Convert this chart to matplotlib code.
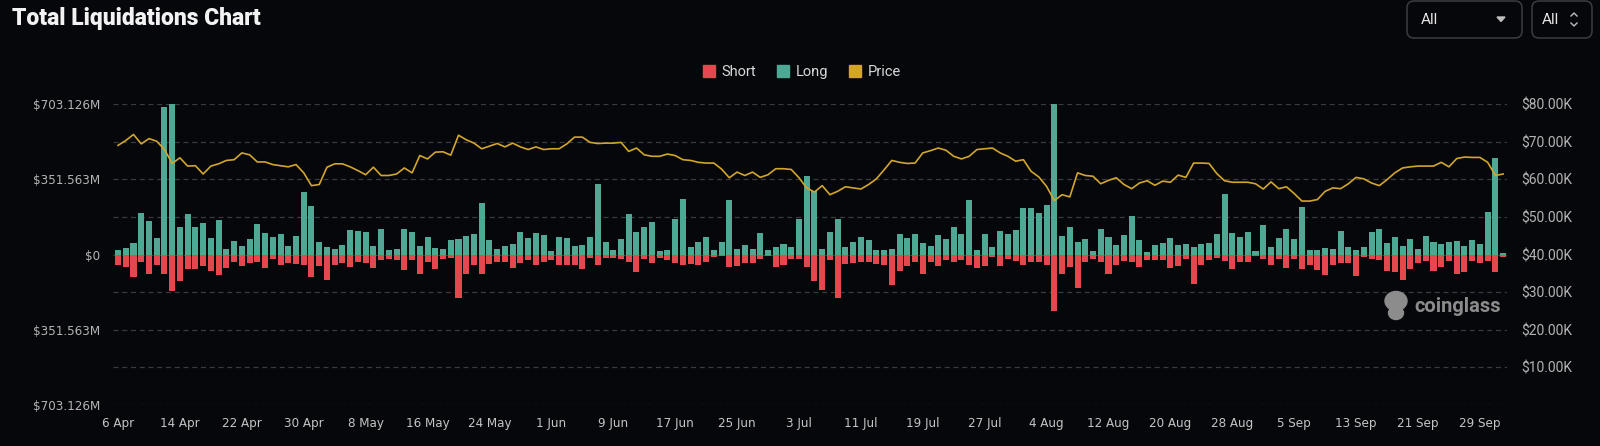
import numpy as np
import matplotlib
matplotlib.use("Agg")
import matplotlib.pyplot as plt
from matplotlib import font_manager
from matplotlib.patches import Patch, FancyBboxPatch, Ellipse

# daily liquidations, $M (6 Apr .. 2 Oct)
longs = [23, 31, 54, 194, 156, 78, 689, 703.126, 128, 187,
         129, 148, 78, 159, 28, 62, 39, 73, 143, 101,
         82, 96, 42, 86, 293, 226, 58, 36, 28, 44,
         114, 110, 104, 42, 121, 23, 25, 121, 104, 42,
         82, 31, 28, 70, 73, 86, 96, 241, 70, 26,
         42, 50, 106, 75, 101, 89, 17, 82, 78, 40,
         45, 82, 330, 58, 20, 73, 190, 104, 129, 152,
         16, 19, 168, 257, 36, 58, 82, 20, 59, 254,
         28, 45, 26, 101, 22, 34, 47, 36, 166, 369,
         299, 25, 104, 166, 34, 58, 84, 67, 20, 22,
         26, 96, 78, 96, 54, 40, 92, 73, 129, 96,
         255, 20, 98, 36, 109, 98, 114, 215, 215, 194,
         233, 703.126, 86, 128, 58, 73, 17, 117, 84, 44,
         90, 179, 70, 12, 45, 53, 75, 45, 51, 37,
         51, 56, 98, 283, 101, 81, 103, 17, 138, 33,
         78, 120, 72, 223, 20, 23, 31, 26, 109, 33,
         23, 33, 104, 117, 53, 81, 42, 72, 26, 86,
         58, 50, 59, 61, 40, 68, 50, 199, 451, 8]
shorts = [47, 59, 106, 34, 89, 47, 90, 170, 123, 67,
          70, 54, 75, 98, 61, 34, 56, 39, 36, 61,
          23, 50, 39, 44, 51, 104, 54, 117, 48, 39,
          58, 34, 39, 65, 28, 23, 25, 72, 26, 90,
          37, 70, 23, 17, 205, 89, 51, 89, 45, 34,
          34, 64, 42, 26, 47, 33, 26, 47, 47, 47,
          70, 16, 50, 16, 16, 19, 34, 81, 19, 39,
          16, 28, 42, 50, 44, 50, 34, 11, 5, 58,
          54, 39, 39, 20, 8, 58, 47, 20, 19, 58,
          126, 168, 26, 201, 44, 40, 33, 36, 44, 50,
          142, 78, 56, 36, 89, 36, 53, 26, 36, 26,
          47, 62, 54, 12, 54, 19, 30, 51, 36, 36,
          48, 265, 90, 58, 157, 36, 20, 33, 90, 47,
          31, 36, 58, 28, 28, 28, 61, 56, 23, 138,
          50, 26, 16, 30, 67, 37, 37, 8, 23, 47,
          20, 62, 20, 67, 51, 73, 95, 50, 39, 42,
          100, 12, 20, 28, 78, 82, 118, 70, 39, 30,
          78, 59, 31, 92, 81, 31, 42, 30, 81, 11]
# BTC price, $K
price = [69.0, 70.3, 71.9, 69.4, 70.8, 70.1, 67.9, 64.2, 65.7, 63.5,
         63.6, 61.4, 63.5, 64.1, 65.0, 65.2, 67.0, 66.5, 64.6, 64.6,
         63.9, 63.6, 63.3, 63.9, 61.7, 58.3, 58.6, 63.2, 64.1, 64.1,
         63.3, 62.3, 61.2, 63.2, 61.0, 61.0, 61.4, 63.0, 61.7, 66.3,
         65.4, 67.2, 67.3, 66.4, 71.7, 70.5, 69.6, 68.1, 68.8, 69.5,
         68.6, 69.6, 68.6, 67.9, 68.6, 67.9, 68.1, 68.1, 69.4, 71.2,
         71.2, 69.8, 69.5, 69.6, 69.6, 69.8, 67.4, 68.3, 66.5, 66.1,
         66.1, 66.7, 66.3, 65.2, 65.0, 64.5, 64.3, 64.3, 62.7, 60.4,
         61.9, 61.0, 61.9, 60.5, 61.2, 62.8, 62.8, 62.6, 60.4, 57.7,
         56.6, 58.3, 55.9, 56.8, 58.0, 57.7, 57.4, 58.6, 60.1, 62.5,
         65.0, 64.5, 64.2, 64.3, 67.0, 67.6, 68.3, 67.7, 66.1, 65.4,
         66.1, 67.9, 68.1, 68.3, 67.0, 66.1, 64.8, 65.2, 62.1, 60.6,
         58.1, 54.3, 55.9, 55.3, 61.7, 61.0, 60.8, 58.8, 59.7, 60.4,
         58.6, 57.5, 59.0, 59.6, 58.4, 59.5, 59.2, 61.1, 60.5, 64.3,
         64.3, 64.2, 61.5, 59.6, 59.2, 59.2, 59.2, 58.8, 57.4, 59.3,
         57.5, 58.0, 56.2, 54.2, 54.2, 54.6, 56.8, 57.7, 57.5, 58.8,
         60.5, 60.1, 59.0, 58.3, 59.9, 61.7, 63.0, 63.3, 63.5, 63.5,
         63.5, 64.5, 63.3, 65.5, 65.9, 65.8, 65.8, 64.5, 61.0, 61.4]

xtick_labels = ["6 Apr", "14 Apr", "22 Apr", "30 Apr", "8 May", "16 May", "24 May",
                "1 Jun", "9 Jun", "17 Jun", "25 Jun", "3 Jul", "11 Jul", "19 Jul",
                "27 Jul", "4 Aug", "12 Aug", "20 Aug", "28 Aug", "5 Sep", "13 Sep",
                "21 Sep", "29 Sep"]
left_ticks = [-703.126, -527.3445, -351.563, -175.7815, 0, 175.7815, 351.563, 527.3445, 703.126]
left_labels = ["$703.126M", "", "$351.563M", "", "$0", "", "$351.563M", "", "$703.126M"]
right_ticks = [0, 10, 20, 30, 40, 50, 60, 70, 80]
right_labels = ["", "$10.00K", "$20.00K", "$30.00K", "$40.00K", "$50.00K",
                "$60.00K", "$70.00K", "$80.00K"]

BG = "#06070b"
RED = "#e5474f"
TEAL = "#4fa893"
GOLD = "#d2a52c"

# pick a condensed face for the axis labels if one is installed
fonts = font_manager.fontManager.ttflist
names = {f.name for f in fonts}
cond_dejavu = any(f.name == "DejaVu Sans" and f.stretch in ("condensed", "semi-condensed", 600, 500) for f in fonts)
if "Liberation Sans Narrow" in names:
    narrow = dict(family="Liberation Sans Narrow", fontsize=11)
elif cond_dejavu:
    narrow = dict(family="DejaVu Sans", fontstretch="condensed", fontsize=9.5)
else:
    narrow = dict(family="Roboto", fontsize=9.8)

x = np.arange(len(longs))

fig = plt.figure(figsize=(16, 4.46), dpi=100, facecolor=BG)
ax = fig.add_axes([113 / 1600, 1 - 405 / 446, 1394 / 1600, 301 / 446])
ax.set_facecolor(BG)

ax.bar(x, longs, width=0.78, color=TEAL, zorder=2)
ax.bar(x, -np.array(shorts), width=0.78, color=RED, zorder=2)
ax.set_xlim(-0.65, 179.5)
ax.set_ylim(-703.126, 703.126)
ax.set_yticks(left_ticks)
ax.set_yticklabels(left_labels, color="#b4b4b4", **narrow)
ax.set_xticks(np.arange(0, 177, 8))
ax.set_xticklabels(xtick_labels, color="#c4c4c4", **narrow)
ax.tick_params(axis="both", length=0)
ax.tick_params(axis="y", pad=9)
ax.tick_params(axis="x", pad=9)
ax.grid(axis="y", color="#3a3b40", linestyle=(0, (4, 3)), linewidth=0.9, zorder=0)
for s in ax.spines.values():
    s.set_visible(False)

ax2 = ax.twinx()
ax2.plot(x, price, color=GOLD, linewidth=1.2, zorder=3)
ax2.set_ylim(0, 80)
ax2.set_yticks(right_ticks)
ax2.set_yticklabels(right_labels, family="Roboto", fontsize=10, color="#b4b4b4")
ax2.tick_params(axis="y", length=0, pad=10)
for s in ax2.spines.values():
    s.set_visible(False)

# legend
handles = [Patch(color=RED, label="Short"), Patch(color=TEAL, label="Long"),
           Patch(color=GOLD, label="Price")]
fig.legend(handles=handles, loc="center", bbox_to_anchor=(802 / 1600, 1 - 72 / 446),
           ncol=3, frameon=False, labelcolor="#d8d8d8",
           handlelength=0.8, handleheight=0.8, handletextpad=0.5, columnspacing=1.4,
           prop={"family": "Roboto", "size": 10.5})

# overlay for title, dropdowns and watermark (pixel coordinates)
deco = fig.add_axes([0, 0, 1, 1], zorder=5)
deco.set_xlim(0, 1600)
deco.set_ylim(446, 0)
deco.axis("off")
deco.patch.set_alpha(0)

deco.text(12, 19, "Total Liquidations Chart", fontsize=16.5, fontweight="heavy",
          family="Roboto", color="#f2f2f2", va="center", ha="left")

for (x0, x1) in [(1407, 1522), (1532, 1592)]:
    deco.add_patch(FancyBboxPatch((x0, 1), x1 - x0, 37, boxstyle="round,pad=0,rounding_size=7",
                                  facecolor="none", edgecolor="#3c3d42", linewidth=1.1))
deco.text(1421, 19.5, "All", fontsize=11, family="Roboto", color="#e6e6e6", va="center")
deco.text(1542, 19.5, "All", fontsize=11, family="Roboto", color="#e6e6e6", va="center")
deco.fill([1497, 1505, 1501], [17, 17, 21.5], color="#bdbdbd")
deco.plot([1571, 1574, 1577], [16, 13, 16], color="#bdbdbd", linewidth=1)
deco.plot([1571, 1574, 1577], [23, 26, 23], color="#bdbdbd", linewidth=1)

# coinglass watermark
deco.add_patch(Ellipse((1396, 301), 22, 19, color="#8c8c8c"))
deco.add_patch(Ellipse((1396, 313), 15, 13, color="#8c8c8c"))
deco.text(1414, 306, "coinglass", fontsize=14.5, fontweight="bold", family="Roboto",
          color="#8c8c8c", va="center", ha="left")

fig.savefig("out.png", dpi=100, facecolor=BG)
